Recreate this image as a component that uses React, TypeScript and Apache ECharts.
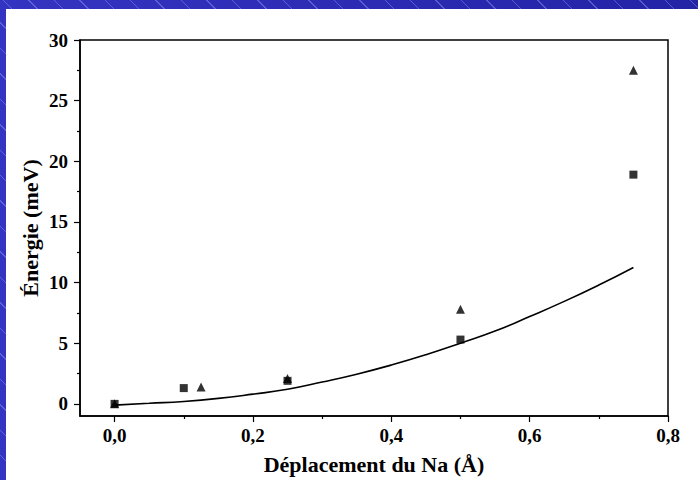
import React, { useEffect, useRef } from "react";
import * as echarts from "echarts";

const squareX = [0, 0.1, 0.25, 0.5, 0.75];
const squareY = [0, 1.3, 1.9, 5.3, 18.9];
const triangleX = [0, 0.125, 0.25, 0.5, 0.75];
const triangleY = [0, 1.4, 2.1, 7.8, 27.5];
const fitX = [0, 0.05, 0.1, 0.15, 0.2, 0.25, 0.3, 0.35, 0.4, 0.45, 0.5, 0.55, 0.6, 0.65, 0.7, 0.75];
const fitY = [-0.1, 0.05, 0.2, 0.45, 0.8, 1.2, 1.8, 2.45, 3.2, 4.05, 5.0, 6.0, 7.2, 8.45, 9.8, 11.25];
const xMajorTicks = [0, 0.2, 0.4, 0.6, 0.8];
const xMinorTicks = [0.1, 0.3, 0.5, 0.7];
const yMajorTicks = [0, 5, 10, 15, 20, 25, 30];
const yMinorTicks = [2.5, 7.5, 12.5, 17.5, 22.5, 27.5];

const FONT = "'Liberation Serif', 'Times New Roman', serif";

export default function App() {
  const ref = useRef<HTMLDivElement>(null);
  useEffect(() => {
    if (!ref.current) return;
    const chart = echarts.init(ref.current, undefined, { renderer: "svg" });
    const zip = (xs: number[], ys: number[]) => xs.map((x, i) => [x, ys[i]]);
    const xBase = { type: "value", min: -0.05, max: 0.8, gridIndex: 0 };
    const yBase = { type: "value", min: -1, max: 30, gridIndex: 0 };
    chart.setOption({
      animation: false,
      backgroundColor: "transparent",
      graphic: [
        {
          type: "rect",
          z: -10,
          silent: true,
          shape: { x: 6, y: 9, width: 698, height: 480 },
          style: { fill: "#ffffff" },
        },
      ],
      grid: {
        left: 80,
        right: 30,
        top: 40,
        bottom: 62,
        show: true,
        backgroundColor: "#ffffff",
        borderColor: "#000",
        borderWidth: 1.5,
      },
      xAxis: [
        {
          ...xBase,
          position: "bottom",
          name: "Déplacement du Na (Å)",
          nameLocation: "middle",
          nameGap: 37,
          nameMoveOverlap: false,
          nameTextStyle: { fontFamily: FONT, fontWeight: "bold", fontSize: 22, color: "#000" },
          axisLine: { show: true, onZero: false, lineStyle: { color: "#000", width: 1.5 } },
          axisTick: { show: true, customValues: xMajorTicks, length: 6, lineStyle: { color: "#000", width: 1.2 } },
          axisLabel: {
            customValues: xMajorTicks,
            margin: 10,
            fontFamily: FONT,
            fontWeight: "bold",
            fontSize: 19,
            color: "#000",
            formatter: (v: number) => v.toFixed(1).replace(".", ","),
          },
          splitLine: { show: false },
        },
        {
          ...xBase,
          position: "bottom",
          axisLine: { show: false, onZero: false },
          axisTick: { show: true, customValues: xMinorTicks, length: 3, lineStyle: { color: "#000", width: 1.2 } },
          axisLabel: { show: false },
          splitLine: { show: false },
        },
      ],
      yAxis: [
        {
          ...yBase,
          position: "left",
          name: "Énergie (meV)",
          nameLocation: "middle",
          nameGap: 39,
          nameMoveOverlap: false,
          nameTextStyle: { fontFamily: FONT, fontWeight: "bold", fontSize: 22, color: "#000" },
          axisLine: { show: true, onZero: false, lineStyle: { color: "#000", width: 1.5 } },
          axisTick: { show: true, customValues: yMajorTicks, length: 6, lineStyle: { color: "#000", width: 1.2 } },
          axisLabel: {
            customValues: yMajorTicks,
            margin: 12,
            fontFamily: FONT,
            fontWeight: "bold",
            fontSize: 19,
            color: "#000",
          },
          splitLine: { show: false },
        },
        {
          ...yBase,
          position: "left",
          axisLine: { show: false, onZero: false },
          axisTick: { show: true, customValues: yMinorTicks, length: 3, lineStyle: { color: "#000", width: 1.2 } },
          axisLabel: { show: false },
          splitLine: { show: false },
        },
      ],
      series: [
        {
          type: "line",
          data: zip(fitX, fitY),
          smooth: true,
          showSymbol: false,
          lineStyle: { color: "#000", width: 1.6 },
          z: 3,
        },
        {
          type: "scatter",
          data: zip(triangleX, triangleY),
          symbol: "triangle",
          symbolSize: 9,
          itemStyle: { color: "#000" },
          z: 4,
        },
        {
          type: "scatter",
          data: zip(squareX, squareY),
          symbol: "rect",
          symbolSize: 8,
          itemStyle: { color: "#000" },
          z: 5,
        },
      ],
    });
    return () => chart.dispose();
  }, []);
  return (
    <div
      style={{
        position: "fixed",
        left: 0,
        top: 0,
        width: 698,
        height: 480,
        background:
          "repeating-linear-gradient(45deg, rgba(255,255,255,0) 0px, rgba(255,255,255,0) 17px, rgba(160,170,255,0.4) 17px, rgba(160,170,255,0.4) 18px), linear-gradient(90deg, #3434c2, #2323a6)",
      }}
    >
      <div ref={ref} style={{ width: 698, height: 480 }} />
    </div>
  );
}
